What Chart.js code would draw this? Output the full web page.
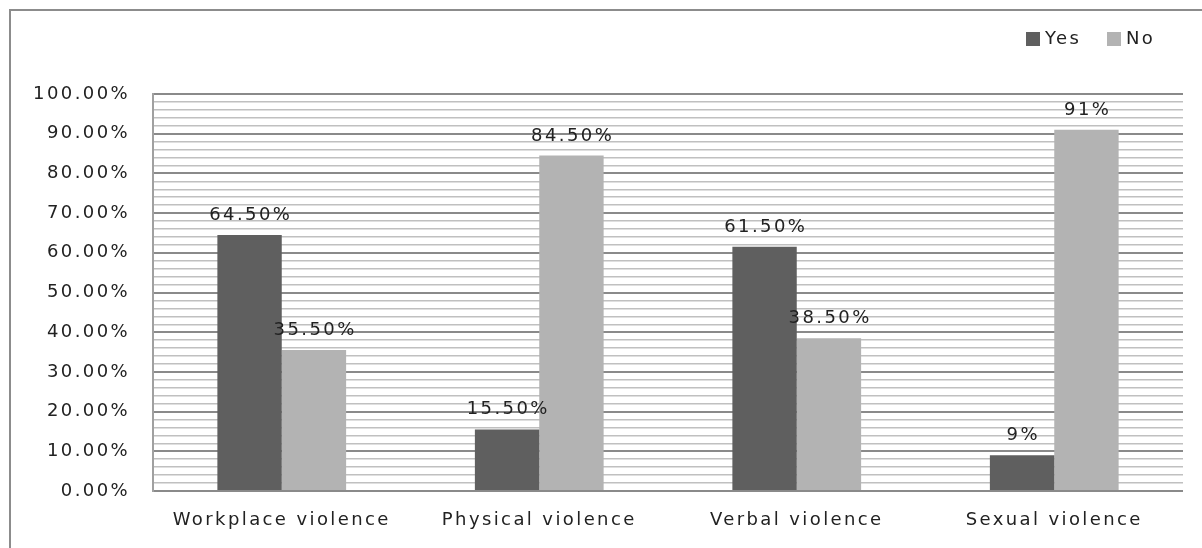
<!DOCTYPE html>
<html>
<head>
<meta charset="utf-8">
<script src="https://cdn.jsdelivr.net/npm/chart.js@4/dist/chart.umd.min.js"></script>
<style>
  html, body { margin: 0; padding: 0; background: #ffffff; }
  #wrap { position: relative; width: 1202px; height: 548px; overflow: hidden; }
  #frame { position: absolute; left: 9px; top: 9px; width: 1300px; height: 700px;
           border-top: 2px solid #8c8c8c; border-left: 2px solid #8c8c8c; }
  canvas { position: absolute; left: 0; top: 0; }
</style>
</head>
<body>
<div id="wrap">
  <div id="frame"></div>
  <canvas id="c" width="1202" height="548"></canvas>
</div>
<script>
const categories = ['Workplace violence', 'Physical violence', 'Verbal violence', 'Sexual violence'];
const seriesNames = ['Yes', 'No'];
const yesValues = [64.5, 15.5, 61.5, 9];
const noValues = [35.5, 84.5, 38.5, 91];
const yesLabels = ['64.50%', '15.50%', '61.50%', '9%'];
const noLabels = ['35.50%', '84.50%', '38.50%', '91%'];
const seriesColors = ['#5f5f5f', '#b3b3b3'];
const yMin = 0, yMax = 100, yStep = 2, yLabelEvery = 10;

const FONT = 'DejaVu Sans';
const FSIZE = 18;
const SPACING = '2.4px';

const spacingPlugin = {
  id: 'spacing',
  beforeUpdate(chart) { chart.ctx.letterSpacing = SPACING; },
  beforeLayout(chart) { chart.ctx.letterSpacing = SPACING; },
  beforeDraw(chart) { chart.ctx.letterSpacing = SPACING; }
};

const valueLabelPlugin = {
  id: 'valueLabels',
  afterDatasetsDraw(chart) {
    const ctx = chart.ctx;
    const labelSets = [yesLabels, noLabels];
    ctx.save();
    ctx.letterSpacing = SPACING;
    ctx.font = FSIZE + 'px "' + FONT + '"';
    ctx.fillStyle = '#222222';
    ctx.textAlign = 'center';
    ctx.textBaseline = 'alphabetic';
    chart.data.datasets.forEach((ds, di) => {
      const meta = chart.getDatasetMeta(di);
      meta.data.forEach((bar, i) => {
        ctx.fillText(labelSets[di][i], bar.x + 1.2, bar.y - 15);
      });
    });
    ctx.restore();
  }
};

const legendPlugin = {
  id: 'customLegend',
  afterDraw(chart) {
    const ctx = chart.ctx;
    ctx.save();
    ctx.letterSpacing = SPACING;
    ctx.font = FSIZE + 'px "' + FONT + '"';
    ctx.textBaseline = 'middle';
    ctx.textAlign = 'left';
    const xs = [1026, 1107];
    chart.data.datasets.forEach((ds, di) => {
      ctx.fillStyle = ds.backgroundColor;
      ctx.fillRect(xs[di], 32, 14, 14);
      ctx.fillStyle = '#222222';
      ctx.fillText(ds.label, xs[di] + 19, 39);
    });
    ctx.restore();
  }
};

new Chart(document.getElementById('c'), {
  type: 'bar',
  data: {
    labels: categories,
    datasets: [
      { label: seriesNames[0], data: yesValues, backgroundColor: seriesColors[0], borderWidth: 0 },
      { label: seriesNames[1], data: noValues, backgroundColor: seriesColors[1], borderWidth: 0 }
    ]
  },
  plugins: [spacingPlugin, valueLabelPlugin, legendPlugin],
  options: {
    responsive: false,
    animation: false,
    devicePixelRatio: 1,
    layout: { padding: { left: 0, right: 19, top: 94, bottom: 0 } },
    plugins: { legend: { display: false }, tooltip: { enabled: false } },
    datasets: { bar: { categoryPercentage: 0.5, barPercentage: 1.0 } },
    scales: {
      x: {
        grid: { display: false, drawTicks: false },
        border: { display: false },
        ticks: { color: '#222222', font: { family: FONT, size: FSIZE }, padding: 19, maxRotation: 0, autoSkip: false },
        afterFit(scale) { scale.height = 57; }
      },
      y: {
        min: yMin, max: yMax,
        grid: {
          drawTicks: false,
          color: (c) => (c.tick && c.tick.value % yLabelEvery === 0) ? '#8a8a8a' : '#c0c0c0',
          lineWidth: (c) => (c.tick && c.tick.value % yLabelEvery === 0) ? 2 : 1.5
        },
        border: { display: true, color: '#a0a0a0', width: 2 },
        ticks: {
          stepSize: yStep,
          autoSkip: false,
          padding: 23,
          color: '#222222',
          font: { family: FONT, size: FSIZE },
          callback: (v) => (v % yLabelEvery === 0) ? v.toFixed(2) + '%' : ''
        },
        afterFit(scale) { scale.width = 153; }
      }
    }
  }
});
</script>
</body>
</html>
